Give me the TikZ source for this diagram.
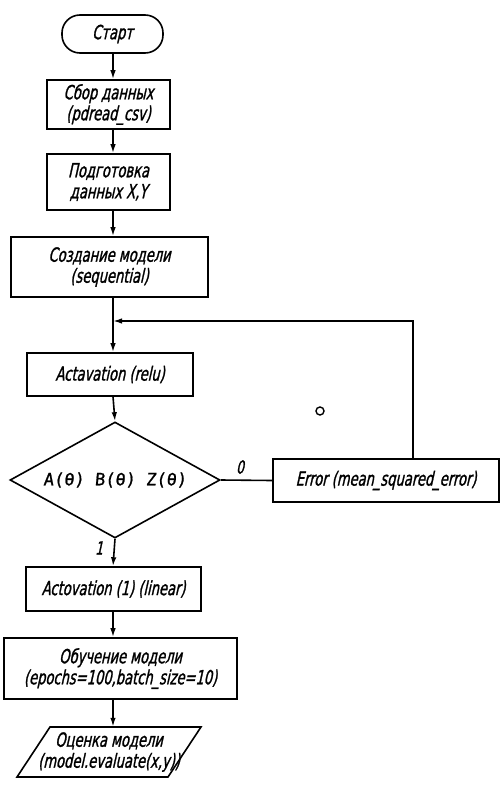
\documentclass[tikz,border=0pt]{standalone}
\usepackage{fontspec}
\setmainfont{DejaVu Sans}[FakeStretch=0.67, FakeSlant=0.22, FakeBold=1.2]
\newfontfamily\monof{DejaVu Sans Mono}[FakeSlant=0.1, FakeBold=1]
\usetikzlibrary{arrows.meta,shapes.geometric}
\begin{document}
\begin{tikzpicture}[x=1pt,y=-1pt,
  every node/.style={font=\fontsize{19.5}{21}\selectfont, align=center, inner sep=0pt},
  line/.style={line width=1.6pt},
  arr/.style={line width=1.6pt, -{Latex[length=9pt,width=5.5pt]}},
  box/.style={draw, line width=1.6pt, rectangle},
  term/.style={draw, line width=1.6pt, rectangle, rounded corners=18pt},
  lbl/.style={font=\fontsize{18}{18}\selectfont}
]
\useasboundingbox (0,0) rectangle (501,789);
\coordinate (ax) at (113,0);
\coordinate (fbx) at (413,0);
\coordinate (jn) at (113,321);

\node[term, minimum width=101pt, minimum height=38pt] (start) at (112.5,34) {Старт};
\node[box, minimum width=123pt, minimum height=49pt] (b1) at (108.5,104.5) {Сбор данных\\(pdread\_csv)};
\node[box, minimum width=123pt, minimum height=56pt] (b2) at (108.5,182) {Подготовка\\данных X,Y};
\node[box, minimum width=197pt, minimum height=60pt] (b3) at (109.5,267) {Создание модели\\(sequential)};
\node[box, minimum width=166pt, minimum height=43pt] (act) at (110,374.5) {Actavation (relu)};
\node[draw, line width=1.6pt, diamond, aspect=1.81, minimum width=210pt, minimum height=116pt] (dec) at (115,480)
  {\monof\fontsize{17}{18}\selectfont A(θ)\ B(θ)\ Z(θ)};
\node[box, minimum width=226pt, minimum height=43pt] (err) at (386,480.5) {Error (mean\_squared\_error)};
\node[box, minimum width=175pt, minimum height=44pt] (act1) at (113.5,589) {Actovation (1) (linear)};
\node[box, minimum width=233pt, minimum height=61pt] (b5) at (120.5,668.5) {Обучение модели\\(epochs=100,batch\_size=10)};
\node[minimum width=120pt, minimum height=50pt] (par) at (109,752) {Оценка модели\\(model.evaluate(x,y))};
\draw[line] (50,727) -- (201,727) -- (168,777) -- (17,777) -- cycle;

\draw[arr] (start.south -| ax) -- (b1.north -| ax);
\draw[arr] (b1.south -| ax) -- (b2.north -| ax);
\draw[arr] (b2.south -| ax) -- (b3.north -| ax);
\draw[arr] (b3.south -| ax) -- (act.north -| ax);
\draw[arr] (act.south -| ax) -- (dec.north);
\draw[arr] (dec.south) -- (act1.north -| ax);
\draw[arr] (act1.south -| ax) -- (b5.north -| ax);
\draw[arr] (b5.south -| ax) -- (par.north -| ax);
\draw[line] (dec.east) -- (err.west);
\draw[arr] (err.north -| fbx) |- (jn);

\node[lbl] (l0) at (240,467) {0};
\node[lbl] (l1) at (99,548) {1};
\draw[line width=1.4pt] (320,411) circle (4pt);
\end{tikzpicture}
\end{document}
